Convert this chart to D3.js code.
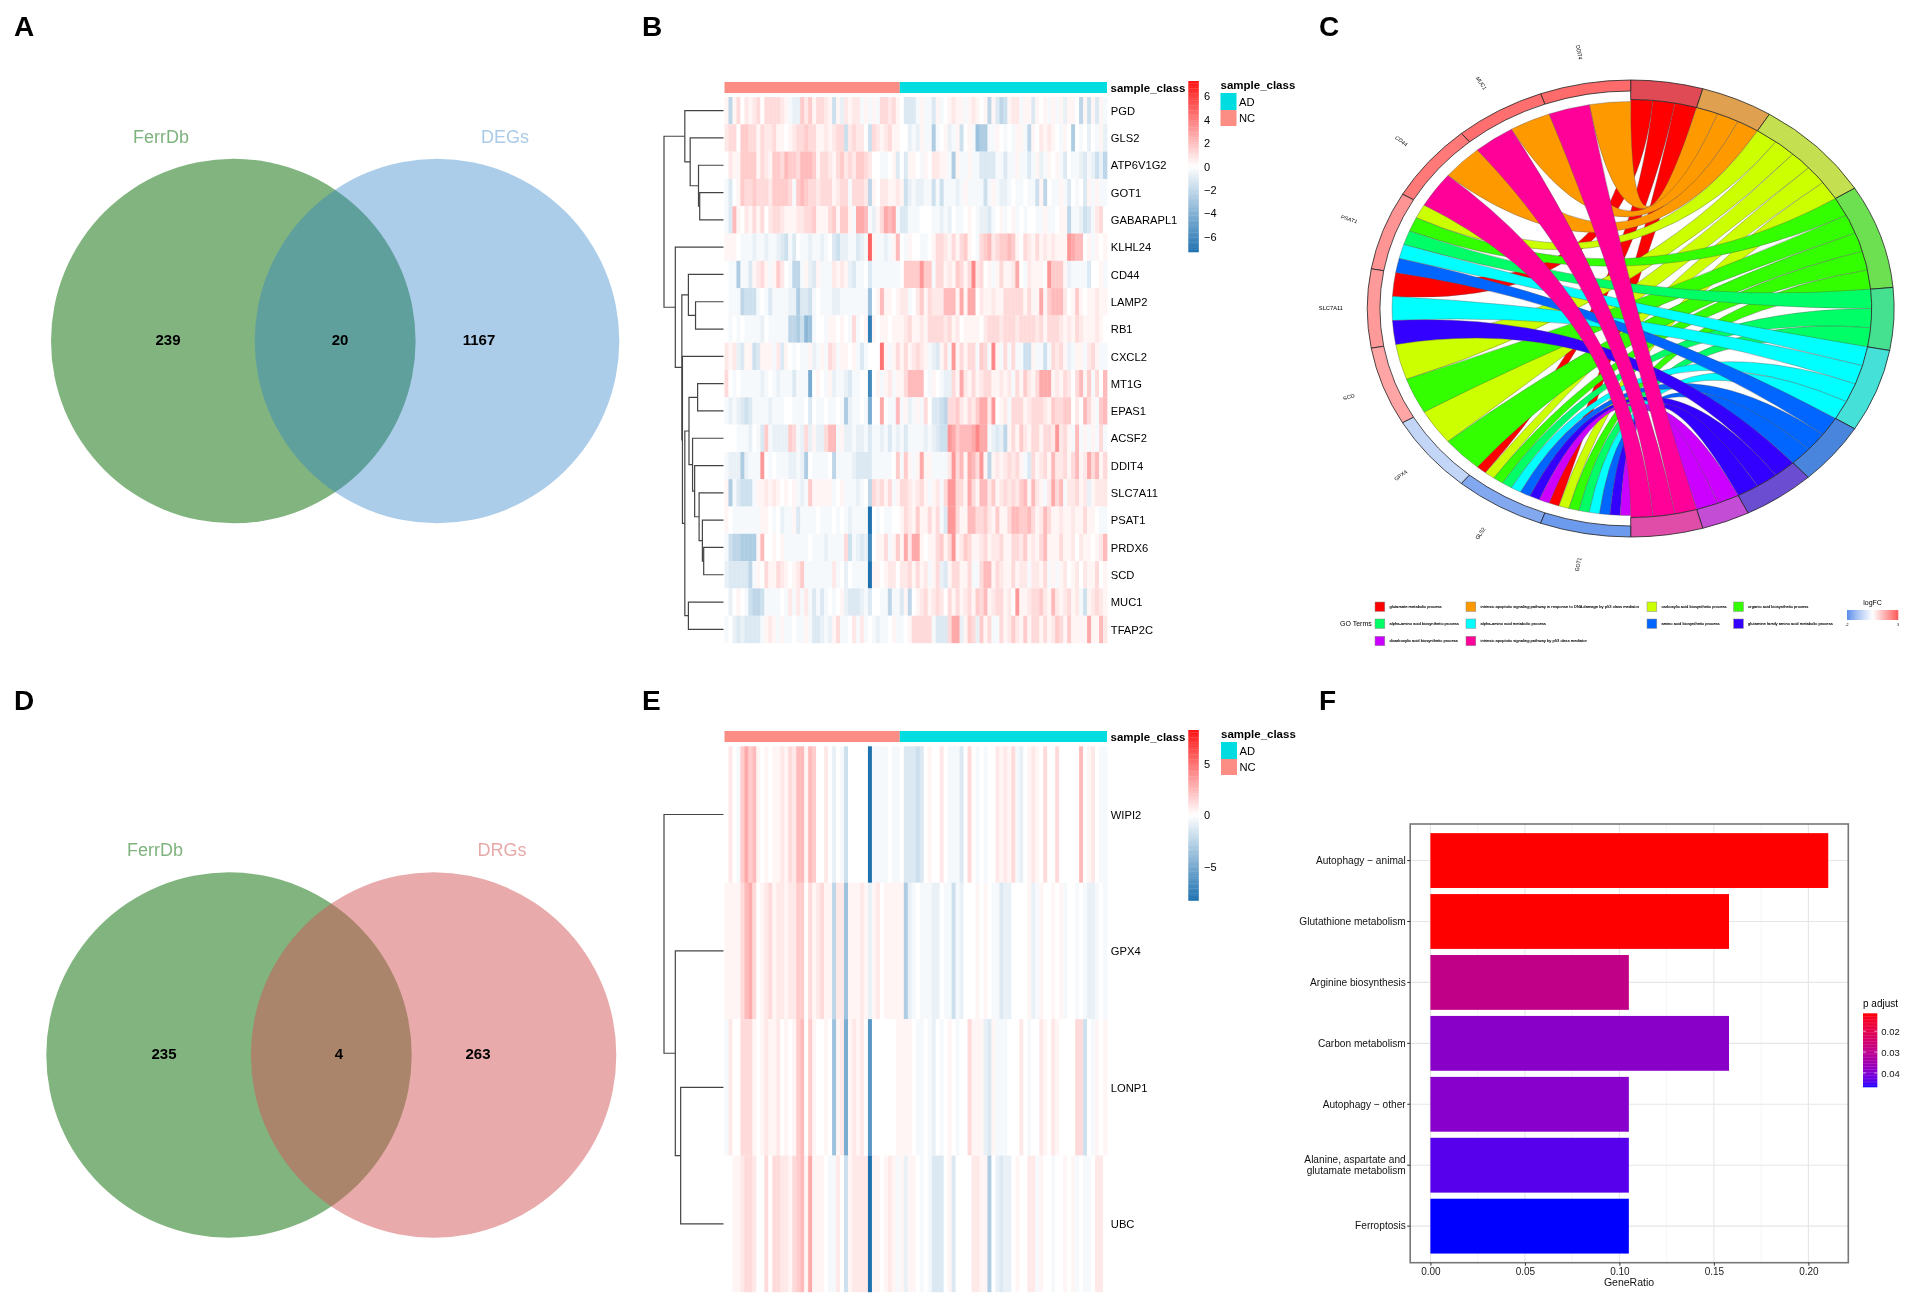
<!DOCTYPE html>
<html><head><meta charset="utf-8">
<style>html,body{margin:0;padding:0;background:#fff}svg{display:block;filter:blur(.3px)}text{font-family:"Liberation Sans",Arial,sans-serif}</style>
<script src="https://cdn.jsdelivr.net/npm/d3@7/dist/d3.min.js"></script>
</head><body>
<script>
/* ---------- DATA ---------- */
const vennA = {left:"FerrDb", right:"DEGs", counts:[239,20,1167]};
const vennD = {left:"FerrDb", right:"DRGs", counts:[235,4,263]};

const sampleClasses = [["NC",44],["AD",52]];
const genesB = ["PGD","GLS2","ATP6V1G2","GOT1","GABARAPL1","KLHL24","CD44","LAMP2","RB1","CXCL2","MT1G","EPAS1","ACSF2","DDIT4","SLC7A11","PSAT1","PRDX6","SCD","MUC1","TFAP2C"];
/* values in half log-units, one per sample group of the picture */
const rowPGD=[1,-5,1,3,0,2,1,2,3,0,3,3, 3,3,2,1,-1,-2,-2,4,2,4,1,3, 3,2,1,-4,1,-2,2,1,2,2,-1,1, -1,1,-1,3,3,2,3,1,0,-3,-3,-3, -1,1,-1,-1,-3,1,-1,0,1,2,1,1, -1,1,2,1,0,1,-5,1,-3,-5,-4,1, 2,2,-1,1,1,-3,1,0,1,-1,1,-1, 1,-2,1,1,0,-5,1,-4,1,-3,1,-1];
const rowGLS2=[2,3,3,0,4,4,3,3,1,3,2,2, 3,1,1,0,1,2,3,3,4,3,3,1, 1,2,1,2,3,3,-4,2,3,2,2,0, -4,3,2,1,2,3,1,1,0,0,-2,-1, -2,1,-1,-1,-6,-1,0,1,-2,-1,1,-4, 0,1,-1,-7,-6,-6,-1,-1,1,0,-1,0, -1,1,1,-1,-5,1,0,2,1,2,1,0, -1,1,0,-6,0,-1,0,-2,0,-1,1,-2];
const rowATP=[0,2,1,1,4,4,4,4,1,3,2,1, 4,4,3,5,4,4,3,5,5,5,4,1, 3,3,2,1,3,4,2,3,2,4,4,3, 2,0,0,-1,-1,0,1,-3,0,-3,1,1, 0,-1,1,0,2,2,1,1,-1,-6,1,-1, -1,1,-1,-1,-3,-3,-3,-3,-1,-1,-3,-1, -1,1,-1,-1,-3,-1,1,-2,-1,1,0,1, -1,-3,0,-1,-1,-2,-3,-1,-2,-4,-2,-5];
const rowGOT1=[-1,-3,0,1,4,3,3,4,3,3,3,2, 4,4,4,4,3,-1,4,5,4,3,3,2, 3,3,3,1,2,3,3,-1,3,3,3,2, -5,1,0,2,2,1,1,2,1,-4,-2,-1, -2,-2,-1,-1,-4,-1,-4,-1,-1,-1,-2,-1, 1,-1,-1,-1,-1,-4,-1,1,-1,-2,-2,-1, 0,-1,-1,0,-1,-1,-4,1,-5,0,-1,-1, 1,-1,-3,0,-1,0,-3,1,-1,1,-1,-1];
const rowGABA=[-1,-3,5,1,0,2,1,3,1,3,0,2, 3,3,2,1,1,1,2,2,3,3,4,1, 1,1,3,4,1,4,4,1,-1,6,6,5, -1,-2,1,3,6,5,6,-1,-3,-3,-1,-1, -1,0,0,0,-1,-1,-2,-1,-2,0,-1,-1, 0,1,0,-1,-2,-2,-3,-1,0,1,-1,0, 1,-1,0,-1,0,0,-1,-1,1,-1,-1,0, 1,1,-5,-1,-1,-2,-4,-3,-1,2,3,0];
const rowKLHL=[1,1,1,0,-1,-1,-1,-2,-1,-1,-2,-1, -1,-2,-3,-4,-1,-3,0,-1,-1,-2,-1,-1, -2,-1,0,-3,-4,-2,-2,-1,-1,-3,-2,-1, 10,1,-1,-1,-2,-1,1,5,0,-1,1,0, 0,-1,-1,0,1,3,3,2,1,3,1,3, 4,1,0,-1,3,4,5,2,3,4,4,5, 4,1,0,3,2,1,3,1,2,1,2,1, 1,1,7,6,5,5,0,1,-1,1,0,1];
const rowCD44=[0,-1,-1,-6,-1,-1,-3,1,2,3,1,-1, 1,4,2,0,-1,-5,-5,-1,1,-2,-3,1, -1,-1,-1,2,1,2,1,-2,-3,-1,-1,0, -3,-1,-1,-1,-1,-1,-1,-1,0,4,4,4, 4,7,4,4,-1,3,3,1,2,1,4,3, 1,3,8,2,3,0,1,-1,1,3,1,1, 2,6,0,-1,2,1,1,1,0,7,4,4, 4,1,-2,-1,-1,-1,-1,-3,0,0,1,-1];
const rowLAMP2=[0,-1,-1,-1,-5,-4,-4,-4,-1,0,-1,-3, -1,-1,-1,-1,-2,-2,-6,-3,-3,-4,-1,0, -1,-1,-1,-2,-2,-1,-1,-1,-1,-1,-1,-1, -7,0,1,5,1,1,0,1,2,2,-1,0, 2,4,1,3,2,2,2,5,5,5,1,6, 1,6,6,0,2,1,1,2,1,1,3,3, 3,3,3,1,3,1,1,6,1,4,5,5, 5,2,0,1,4,1,0,1,1,2,1,1];
const rowRB1=[0,-1,0,-1,0,-1,-1,-1,-1,-2,0,-1, -1,-1,-1,-1,-5,-5,-6,-4,-8,-7,-1,0, 0,-1,1,1,0,1,0,-1,3,-1,0,1, -13,1,0,1,1,0,1,1,1,2,3,1, 1,2,1,3,3,3,3,2,3,1,2,0, 1,1,1,1,0,2,3,3,3,2,3,3, 3,2,3,3,3,3,2,3,1,3,3,3, 2,1,2,1,3,2,1,1,1,2,1,0];
const rowCXCL2=[2,1,2,-2,-3,1,1,-4,-3,1,1,1, -1,2,-3,1,0,-1,0,-1,-1,1,-2,-1, 1,-1,3,2,-1,1,1,0,1,-1,-3,-1, 0,0,0,9,1,-1,1,3,1,3,1,2, 3,2,1,-1,-2,-3,1,3,-1,7,1,3, 1,3,3,-1,4,3,-1,8,1,-1,3,-1, 3,-1,-1,-4,-4,1,-1,-1,-4,-1,3,2, 3,1,-2,-1,1,1,-1,2,3,1,-1,-1];
const rowMT1G=[3,0,-1,0,-1,-1,-1,-1,-1,-2,-1,0, -1,-2,-1,-1,-1,-3,-1,-1,-1,-9,0,1, 0,-1,1,-2,-1,-1,-2,-3,-1,-1,0,0, -12,0,1,-1,1,2,-1,1,1,3,5,5, 5,5,0,-1,1,0,-1,-2,-2,3,1,6, 2,1,3,1,2,3,3,1,1,2,1,2, -1,3,1,4,2,1,3,6,6,6,1,2, 1,3,2,0,3,5,1,4,-1,3,0,5];
const rowEPAS1=[-1,-2,-1,-2,-3,-4,-3,-1,-1,-1,-1,-2, -1,-1,-1,0,0,-1,-1,-1,0,-3,0,-1, -1,0,-1,-1,0,-1,-6,-2,-1,-1,0,-1, -9,0,0,6,0,-1,-1,5,-1,1,-2,-1, 1,-1,3,0,-3,-3,-4,-5,3,3,4,2, 1,3,2,4,6,6,2,7,0,1,2,-1, 3,3,3,1,2,3,3,3,2,1,4,3, 3,4,4,0,2,0,5,3,1,-1,4,5];
const rowACSF2=[0,0,0,-1,-1,-1,-2,0,-1,-3,4,-1, -2,-2,-2,-2,4,3,-1,-2,3,-2,1,-2, -2,3,5,5,-1,1,-2,-2,-1,-2,-2,-1, -3,-1,-1,-2,-1,-3,-1,-2,-1,-3,-1,-1, -1,-1,-2,-1,-2,-3,-4,-4,7,6,4,5, 5,5,6,8,6,6,-1,-2,-3,-2,-5,1, 3,1,4,2,1,3,3,1,3,3,2,7, 2,3,1,-1,5,-1,1,-1,1,-1,3,-1];
const rowDDIT4=[-1,-2,-2,-2,-6,-2,-1,-1,-1,7,0,-1, 0,-1,-1,-1,-2,-2,-1,-2,-6,0,-1,-1, -1,-1,0,-5,-1,-1,-1,-1,-2,-3,-3,-3, -3,-1,-1,-1,-1,-1,0,4,-1,4,1,-1, 1,6,1,1,-1,-1,-1,-1,2,7,3,5, 1,6,5,3,7,1,-5,1,2,1,2,3, 2,3,1,-1,-3,3,1,2,3,1,5,2, 2,3,1,3,5,1,2,6,3,5,1,3];
const rowSLC=[1,-6,-1,-3,-4,-4,-4,-1,1,1,2,1, 2,1,0,1,0,1,-1,-2,-1,4,1,1, 1,1,1,-1,0,1,-1,-1,-1,-2,-1,0, -5,3,2,3,1,3,-1,1,3,3,2,1, 2,3,1,-1,1,2,-1,3,7,7,3,3, 1,6,3,1,5,5,2,4,1,2,3,2, 3,2,4,5,1,5,2,1,-1,2,6,3, 5,-1,2,2,3,1,2,-2,1,2,2,2];
const rowPSAT1=[1,0,-1,-1,-1,-1,-1,-1,-1,1,1,0, -1,0,-2,-1,-1,1,-3,-1,-1,-1,-1,0, -1,-1,-1,0,-1,0,-1,-2,-1,-1,-1,-1, -14,0,-1,0,-1,-1,0,0,1,3,2,1, 4,1,1,3,1,3,-1,-3,7,7,3,1, 1,5,5,3,3,4,2,1,4,1,1,3, 5,5,4,4,5,3,1,2,5,3,1,1, 2,1,1,2,1,1,3,1,1,0,-1,-1];
const rowPRDX6=[-1,-4,-5,-5,-6,-6,-6,-6,1,5,0,0, 1,0,1,-1,-1,-1,-1,-1,-1,0,-1,-1, -1,-2,-1,-1,-1,-1,3,-4,-1,-2,-3,-2, -12,0,1,1,3,-1,1,4,1,6,2,6, 6,1,0,1,1,3,4,1,3,7,1,2, 4,3,1,1,2,3,1,2,2,3,1,1, 3,3,2,4,1,2,1,3,5,1,1,1, 3,1,1,2,0,2,1,1,0,1,2,5];
const rowSCD=[-2,-3,-3,-3,-3,-3,-5,-1,1,0,3,1, 1,3,2,1,0,1,2,4,-1,-1,-1,-1, -1,-1,-1,2,-1,0,-2,0,-1,-1,-1,-1, -14,1,1,0,1,2,2,0,2,2,3,1, 3,1,2,-1,1,3,-2,-3,1,3,3,1, 1,3,-1,-1,3,5,5,1,3,2,1,1, 3,1,2,2,-1,2,2,1,3,-1,1,-1, 1,2,0,1,2,0,2,1,1,3,0,1];
const rowMUC1=[0,-2,0,1,0,-1,-4,-5,-5,-4,-1,-1, -1,-1,0,-1,2,-1,2,-1,2,-1,-3,-1, -3,-1,0,-1,0,1,-2,-3,-3,-3,-2,-1, -3,0,0,-1,-1,-5,-1,-1,-3,1,-5,0, 1,2,3,1,2,3,2,0,3,1,3,1, 2,3,1,4,3,5,1,2,3,3,1,2, 0,7,1,1,2,3,3,4,2,1,5,2, 1,2,3,1,2,-1,-4,1,2,3,2,1];
const rowTFAP=[-1,0,-2,-3,-2,-3,-3,-3,-3,-1,1,2, 1,-1,1,-1,-1,0,-1,-1,1,-1,-3,-3, -2,-1,-2,1,3,-1,-1,0,2,-1,2,-1, 0,-1,-2,-1,-1,0,1,-1,-1,0,1,3, 3,3,3,3,-1,-3,-3,-3,3,6,6,-2, 1,4,3,-2,4,1,3,-1,-1,3,1,2, 4,2,1,4,1,3,3,1,3,1,2,4, 3,1,4,1,1,1,1,6,1,1,5,2];
const matrixB=[rowPGD,rowGLS2,rowATP,rowGOT1,rowGABA,rowKLHL,rowCD44,rowLAMP2,rowRB1,rowCXCL2,rowMT1G,rowEPAS1,rowACSF2,rowDDIT4,rowSLC,rowPSAT1,rowPRDX6,rowSCD,rowMUC1,rowTFAP];
const genesE = ["WIPI2","GPX4","LONP1","UBC"];
const rowWIPI2=[0,2,0,-1,4,6,4,5,1,0,1,0, 1,1,2,1,3,2,5,5,1,5,4,0, 0,2,0,-2,0,-1,-4,0,0,0,0,0, -15,-1,-1,-1,-1,0,-1,-1,0,-3,-3,-3, -4,-3,0,1,0,0,2,0,-1,-1,-1,-3, 0,3,0,-1,0,-1,0,0,2,1,2,1, 3,-1,-2,0,1,2,1,0,3,0,0,3, 0,0,0,0,0,5,0,1,2,0,-1,-1];
const rowGPX4=[1,1,1,1,3,5,6,3,0,1,2,3, 1,2,2,1,2,2,4,4,0,3,1,2, 3,1,1,-5,2,2,-7,1,1,1,2,1, -2,1,2,0,1,1,1,1,1,-6,-2,-1, 0,-1,-1,-1,-2,-2,0,-1,-1,-4,-1,-2, 0,0,0,1,0,1,0,-1,-1,-3,-2,-2, 0,0,0,0,1,-2,-1,1,0,0,1,0, 1,-1,0,0,-1,0,-1,-2,-2,-1,0,-1];
const rowLONP1=[-1,2,0,0,3,3,3,1,0,1,2,1, 1,2,0,1,0,1,4,5,0,4,1,0, 0,1,0,-7,1,2,-9,1,2,1,2,0, -11,0,0,0,0,0,0,1,1,1,1,0, -1,-1,0,-1,-2,0,-1,0,1,0,-1,0, 0,3,1,1,1,-2,-3,1,-1,-1,-1,0, 0,0,2,0,-1,0,0,2,1,0,2,1, 0,0,0,0,3,3,-4,0,-1,1,0,1];
const rowUBC=[0,0,1,1,2,3,3,2,0,0,3,0, 3,3,2,2,1,3,4,5,1,6,1,1, 1,0,-1,-1,2,0,-4,1,2,2,2,2, -14,1,1,0,1,2,1,-1,1,-2,1,1, 0,-1,0,-1,-3,-3,-3,0,1,-3,0,0, 0,0,2,2,1,1,-6,0,-2,-3,-2,-2, 0,1,0,0,2,2,-1,1,0,0,-1,0, 0,1,0,1,-1,0,-1,-1,0,2,2,0];
const matrixE=[rowWIPI2,rowGPX4,rowLONP1,rowUBC];
/* dendrograms: [distance,left,right], numbers are row indexes */
const treeB=[1,[.65,0,[.56,1,[.42,2,[.40,3,4]]]],[.81,5,[.70,[.59,6,[.47,7,8]],[.69,9,[.65,[.58,[.435,10,11],[.52,12,[.485,13,[.41,14,[.355,15,[.333,16,17]]]]]],[.59,18,19]]]]]];
const treeE=[1,0,[.81,1,[.72,2,3]]];
const ticksB=[-6,-4,-2,0,2,4,6], ticksE=[-5,0,5];

const chordGenes=["DDIT4","MUC1","CD44","PSAT1","SLC7A11","SCD","GPX4","GLS2","GOT1"];
const chordLogFC=[2.75,2.7,2.55,2.13,2.04,1.87,-.4,-1.4,-1.72];
const goTerms=["glutamate metabolic process","intrinsic apoptotic signaling pathway in response to DNA damage by p53 class mediator","carboxylic acid biosynthetic process","organic acid biosynthetic process","alpha-amino acid biosynthetic process","alpha-amino acid metabolic process","amino acid biosynthetic process","glutamine family amino acid metabolic process","dicarboxylic acid biosynthetic process","intrinsic apoptotic signaling pathway by p53 class mediator"];
const goColors=["#FF0000","#FF9900","#CCFF00","#33FF00","#00FF66","#00FFFF","#0066FF","#3300FF","#CC00FF","#FF0099"];
const goRing=["#E04A55","#DFA050","#C4E050","#6CE050","#45E090","#45E0D8","#4A85DD","#6A4DD0","#C44DD5","#DF4DA8"];
/* term indexes linked to each gene */
const geneTerms=[[1,9],[1,9],[1,9],[2,3,4,5,6],[0,5,7],[2,3],[2,3],[0,2,3,4,5,6,7,8],[0,2,3,4,5,6,7,8]];

const pathways=["Autophagy − animal","Glutathione metabolism","Arginine biosynthesis","Carbon metabolism","Autophagy − other","Alanine, aspartate and\nglutamate metabolism","Ferroptosis"];
const geneRatio=[.2105,.158,.105,.158,.105,.105,.105];
const pAdjust=[.0114,.0114,.029,.0389,.0392,.0439,.0467];

/* ---------- HELPERS ---------- */
const svg=d3.select("body").append("svg").attr("width",1910).attr("height",1303).attr("viewBox","0 0 1910 1303");
function txt(g,x,y,s,o={}){return g.append("text").attr("x",x).attr("y",y).text(s).attr("font-size",o.size||11).attr("fill",o.fill||"#000").attr("font-weight",o.weight||null).attr("text-anchor",o.anchor||"start").attr("dominant-baseline",o.base||null);}
[["A",14,36],["B",642,36],["C",1319,36],["D",14,710],["E",642,710],["F",1319,710]].forEach(d=>txt(svg,d[1],d[2],d[0],{size:28,weight:700}));

/* ---------- VENN ---------- */
function venn(v,cx1,cx2,cy,r,colR,alphaR,lblR,lx,rx,ly,nx){
  const g=svg.append("g");
  const x=d3.scaleLinear().domain([0,1]).range([cx1,cx2]);
  g.append("circle").attr("cx",x(0)).attr("cy",cy).attr("r",r).attr("fill","#2F822B").attr("fill-opacity",.6);
  g.append("circle").attr("cx",x(1)).attr("cy",cy).attr("r",r).attr("fill",colR).attr("fill-opacity",alphaR);
  txt(g,lx,ly,v.left,{size:18,anchor:"middle",fill:"#7FB37D",base:"middle"});
  txt(g,rx,ly,v.right,{size:18,anchor:"middle",fill:lblR,base:"middle"});
  v.counts.forEach((c,i)=>txt(g,nx[i],cy,c,{size:15,weight:700,anchor:"middle",base:"middle"}));
}
venn(vennA,233.3,437,341,182.3,"#2D82C8",.4,"#A9CBE8",161,505,138,[168,340,479]);
venn(vennD,229,433.6,1055,182.7,"#D15555",.5,"#E8A9A9",155,502,851,[164,339,478]);

/* ---------- HEATMAPS ---------- */
function heatmap(o){
  const g=svg.append("g");
  const cols=d3.range(96);
  const x=d3.scaleBand(cols,[724.5,1107]);
  const y=d3.scaleBand(o.genes.map((d,i)=>i),o.rows);
  const color=d3.scaleLinear([-o.lim,0,o.lim],["#1F72B0","#ffffff","#FF1414"]).clamp(true);
  const shade=d=>Math.sign(d)*o.lim*Math.pow(Math.min(Math.abs(d)/14,1),1.2);
  const cells=g.append("g").style("filter","blur(.5px)");
  cells.selectAll("g").data(o.matrix).join("g").attr("transform",(d,i)=>`translate(0,${y(i)})`)
    .selectAll("rect").data(d=>d.slice(0,96)).join("rect")
    .attr("x",(d,i)=>x(i)).attr("width",x.bandwidth()+.4).attr("height",y.bandwidth()+.2).attr("fill",d=>color(shade(d)));
  /* annotation */
  let c0=0;
  const annCol={NC:"#FB8D85",AD:"#00DCE0"};
  sampleClasses.forEach(([k,n])=>{
    g.append("rect").attr("x",x(c0)).attr("y",o.ann).attr("width",x.bandwidth()*n).attr("height",11).attr("fill",annCol[k]);
    c0+=n;
  });
  txt(g,1110.5,o.ann+9.5,"sample_class",{size:11.5,weight:700});
  o.genes.forEach((s,i)=>txt(g,1110.8,y(i)+y.bandwidth()/2+1.2,s,{size:11.2,base:"middle"}));
  /* dendrogram */
  const dx=d3.scaleLinear([0,1],[723.5,664]);
  const dg=g.append("g").attr("fill","none").attr("stroke","#444").attr("stroke-width",1.2);
  (function walk(n){
    if(typeof n==="number")return{x:dx(0),y:y(n)+y.bandwidth()/2};
    const a=walk(n[1]),b=walk(n[2]),px=dx(n[0]);
    dg.append("path").attr("d",`M${a.x},${a.y}H${px}V${b.y}H${b.x}`);
    return{x:px,y:(a.y+b.y)/2};
  })(o.tree);
  /* colour bar */
  const by=d3.scaleLinear([o.lim,-o.lim],o.bar);
  const steps=d3.range(0,70);
  const sy=d3.scaleBand(steps,o.bar);
  g.append("g").selectAll("rect").data(steps).join("rect").attr("x",1188.3).attr("width",10.5)
    .attr("y",d=>sy(d)).attr("height",sy.bandwidth()+.3).attr("fill",d=>color(by.invert(sy(d)+sy.bandwidth()/2)));
  const ax=g.append("g").attr("transform","translate(1199,0)").call(d3.axisRight(by).tickValues(o.ticks).tickSize(0).tickPadding(5).tickFormat(d=>String(d).replace("-","\u2212")));
  ax.select(".domain").remove();
  ax.selectAll("text").attr("font-size",11).attr("fill","#000").attr("font-family",null);
  /* legend */
  txt(g,o.lx,o.ann+7,"sample_class",{size:11.5,weight:700});
  g.append("rect").attr("x",o.lx).attr("y",o.ann+11).attr("width",16).attr("height",17).attr("fill",annCol.AD);
  g.append("rect").attr("x",o.lx).attr("y",o.ann+28).attr("width",16).attr("height",16).attr("fill",annCol.NC);
  txt(g,o.lx+18.5,o.ann+21,"AD",{size:11.2,base:"middle"});
  txt(g,o.lx+18.5,o.ann+37,"NC",{size:11.2,base:"middle"});
}
heatmap({genes:genesB,matrix:matrixB,tree:treeB,rows:[97,643],ann:82,lim:7.3,bar:[81,252],ticks:ticksB,lx:1220.5});
heatmap({genes:genesE,matrix:matrixE,tree:treeE,rows:[746.3,1292],ann:731,lim:8.3,bar:[730,900.5],ticks:ticksE,lx:1221});

/* ---------- CHORD ---------- */
(function(){
  const g=svg.append("g").attr("transform","translate(1630.7,308.5) scale(1.153,1)");
  const deg=Math.PI/180;
  const total=d3.sum(geneTerms,d=>d.length);
  const geneStep=180/chordGenes.length, termStep=180/total;
  const fc=d3.scaleLinear([-2,.5,3],["#5A8DEB","#ffffff","#FF5B5B"]);
  const links=[];
  geneTerms.forEach((ts,i)=>ts.forEach((t,k)=>{
    const w=geneStep/ts.length;
    links.push({gene:i,term:t,a0:geneStep*i+k*w,a1:geneStep*i+(k+1)*w});
  }));
  let cur=0;const spans=[];
  goTerms.forEach((_,t)=>{
    const ls=links.filter(l=>l.term===t);
    spans[t]=[cur,cur+ls.length*termStep];
    ls.forEach(l=>{l.b0=cur;l.b1=cur+termStep;cur+=termStep;});
  });
  const ribbon=d3.ribbon();
  g.append("g").selectAll("path").data(links.slice().sort((p,q)=>p.term-q.term)).join("path")
    .attr("d",l=>ribbon({source:{startAngle:-l.a1*deg,endAngle:-l.a0*deg,radius:207},target:{startAngle:l.b0*deg,endAngle:l.b1*deg,radius:209}}))
    .attr("fill",l=>goColors[l.term]).attr("stroke","#555").attr("stroke-width",.45).attr("stroke-opacity",.8).attr("vector-effect","non-scaling-stroke");
  const arc=d3.arc();
  g.append("g").selectAll("path").data(goTerms).join("path")
    .attr("d",(d,t)=>arc({innerRadius:209,outerRadius:228.5,startAngle:spans[t][0]*deg,endAngle:spans[t][1]*deg}))
    .attr("fill",(d,t)=>goRing[t]).attr("stroke","#222").attr("stroke-width",.8).attr("vector-effect","non-scaling-stroke");
  g.append("g").selectAll("path").data(chordGenes).join("path")
    .attr("d",(d,i)=>arc({innerRadius:217.5,outerRadius:228.5,startAngle:-(i+1)*geneStep*deg,endAngle:-i*geneStep*deg}))
    .attr("fill",(d,i)=>fc(chordLogFC[i])).attr("stroke","#222").attr("stroke-width",.8).attr("vector-effect","non-scaling-stroke");
  chordGenes.forEach((s,i)=>{
    const th=(i+.5)*geneStep;
    g.append("text").text(s).attr("font-size",5).attr("text-anchor","middle").attr("dominant-baseline","middle")
      .attr("transform",`translate(${-260*Math.sin(th*deg)},${-260*Math.cos(th*deg)}) rotate(${90-th})`);
  });
  /* legend */
  const lg=svg.append("g");
  const colX=[1375,1466,1647,1733.6],rowY=[606.7,623.7,641];
  txt(lg,1340,623.7,"GO Terms",{size:7,base:"middle"});
  goTerms.forEach((s,i)=>{
    const c=i<8?i%4:i-8, r=i<8?Math.floor(i/4):2, cx=colX[c], cy=rowY[r];
    lg.append("rect").attr("x",cx).attr("y",cy-4.7).attr("width",9.8).attr("height",9.4).attr("fill",goColors[i]).attr("stroke","#888").attr("stroke-width",.5);
    txt(lg,cx+14.5,cy,s,{size:4.1,base:"middle"}).attr("stroke","#000").attr("stroke-width",.12);
  });
  txt(lg,1872.6,603,"logFC",{size:7,anchor:"middle",base:"middle"});
  const bx=d3.scaleLinear([-2,3],[1847,1898]);
  const bs=d3.range(-2,3,.1);
  lg.append("g").selectAll("rect").data(bs).join("rect").attr("x",d=>bx(d)).attr("y",610).attr("height",10).attr("width",bx(.1)-bx(0)+.3).attr("fill",d=>fc(d+.05));
  txt(lg,1847,625,"-2",{size:3.6,anchor:"middle",base:"middle"});
  txt(lg,1898,625,"3",{size:3.6,anchor:"middle",base:"middle"});
})();

/* ---------- BAR PANEL F ---------- */
(function(){
  const g=svg.append("g");
  const L=1410.2,R=1848.3,T=824,B=1262.7;
  const x=d3.scaleLinear([0,.2],[1430.4,1808.4]);
  const y=d3.scaleBand(pathways,[T,B]).paddingInner(.1).paddingOuter(.15);
  const major=[0,.05,.1,.15,.2],minor=[.025,.075,.125,.175];
  g.append("g").selectAll("line").data(minor).join("line").attr("x1",x).attr("x2",x).attr("y1",T).attr("y2",B).attr("stroke","#EFEFEF").attr("stroke-width",.7);
  g.append("g").selectAll("line").data(major).join("line").attr("x1",x).attr("x2",x).attr("y1",T).attr("y2",B).attr("stroke","#E6E6E6").attr("stroke-width",1.1);
  g.append("g").selectAll("line").data(pathways).join("line").attr("x1",L).attr("x2",R).attr("y1",d=>y(d)+y.bandwidth()/2).attr("y2",d=>y(d)+y.bandwidth()/2).attr("stroke","#E6E6E6").attr("stroke-width",1.1);
  const pScale=d3.scaleLinear([.0114,.0467],[0,1]);
  const pColor=p=>d3.interpolateLab("#FF0000","#0000FF")(pScale(p));
  g.append("g").selectAll("rect").data(pathways).join("rect").attr("x",x(0)).attr("y",d=>y(d)).attr("height",y.bandwidth())
    .attr("width",(d,i)=>x(geneRatio[i])-x(0)).attr("fill",(d,i)=>pColor(pAdjust[i]));
  g.append("rect").attr("x",L).attr("y",T).attr("width",R-L).attr("height",B-T).attr("fill","none").attr("stroke","#777").attr("stroke-width",1.6);
  const ax=g.append("g").attr("transform",`translate(0,${B})`).call(d3.axisBottom(x).tickValues(major).tickSize(3).tickPadding(2).tickFormat(d3.format(".2f")));
  ax.select(".domain").remove();
  ax.selectAll("line").attr("stroke","#333");ax.selectAll("text").attr("font-size",10).attr("fill","#222").attr("font-family",null);
  const ay=g.append("g").attr("transform",`translate(${L},0)`).call(d3.axisLeft(y).tickSize(3).tickPadding(1.5));
  ay.select(".domain").remove();ay.selectAll("line").attr("stroke","#333");
  ay.selectAll("text").attr("font-size",10.15).attr("fill","#111").attr("font-family",null).each(function(d){
    const parts=d.split("\n");if(parts.length<2)return;
    const t=d3.select(this).text(null);
    parts.forEach((p,i)=>t.append("tspan").attr("x",-4.5).attr("dy",i?"1.05em":"-0.2em").text(p));
  });
  txt(g,1629,1283,"GeneRatio",{size:10.5,anchor:"middle",fill:"#111",base:"middle"});
  txt(g,1863,1004,"p adjust",{size:10,base:"middle"});
  const by=d3.scaleLinear([.0114,.0467],[1013.3,1087]);
  const st=d3.range(0,50);const sy=d3.scaleBand(st,[1013.3,1087]);
  g.append("g").selectAll("rect").data(st).join("rect").attr("x",1863).attr("width",14.3).attr("y",d=>sy(d)).attr("height",sy.bandwidth()+.3).attr("fill",d=>pColor(by.invert(sy(d)+sy.bandwidth()/2)));
  const cb=g.append("g").attr("transform","translate(1877.3,0)").call(d3.axisRight(by).tickValues([.02,.03,.04]).tickSize(0).tickPadding(4).tickFormat(d3.format(".2f")));
  cb.select(".domain").remove();cb.selectAll("text").attr("font-size",9.5).attr("fill","#111").attr("font-family",null);
  g.append("g").selectAll("line").data([.02,.03,.04]).join("line").attr("x1",1863).attr("x2",1866).attr("y1",by).attr("y2",by).attr("stroke","#fff").attr("stroke-width",.6);
  g.append("g").selectAll("line").data([.02,.03,.04]).join("line").attr("x1",1874.3).attr("x2",1877.3).attr("y1",by).attr("y2",by).attr("stroke","#fff").attr("stroke-width",.6);
})();
</script>
</body></html>
